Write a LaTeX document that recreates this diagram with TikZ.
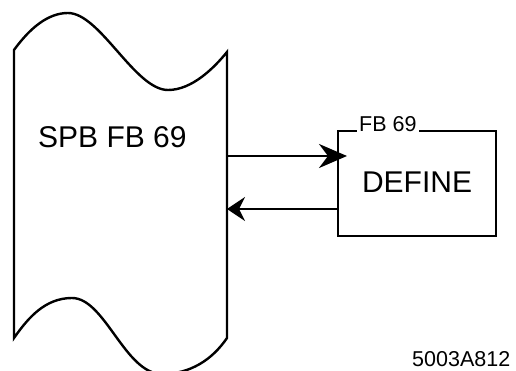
\documentclass[tikz,border=0pt]{standalone}
\usepackage{fontspec}
\setmainfont{Liberation Sans}
\usetikzlibrary{arrows.meta}
\begin{document}
\begin{tikzpicture}[x=1pt,y=-1pt,
  outline/.style={line width=2.4pt},
  flow/.style={line width=2.6pt},
  bigfont/.style={font=\fontsize{30}{36}\selectfont},
  smallfont/.style={font=\fontsize{21.5}{26}\selectfont},
  plain/.style={inner sep=0pt, anchor=base west}]
\useasboundingbox (0,0) rectangle (516,371);
% left program shape
\draw[outline]
  (14,338) -- (14,50)
  .. controls (30,28) and (48,13) .. (68,13)
  .. controls (100,13) and (135,90) .. (168,90)
  .. controls (192,90) and (214,68) .. (227,52)
  -- (227,338)
  .. controls (212,360) and (190,374) .. (162,374)
  .. controls (125,374) and (105,298) .. (72,298)
  .. controls (45,298) and (28,318) .. (14,338) -- cycle;
\node[plain, bigfont] (spb) at (38,148) {SPB FB 69};
% FB box
\node[draw, line width=2pt, minimum width=158pt, minimum height=105pt,
      inner sep=0pt, anchor=north west] (box) at (337,130) {};
\node[inner sep=0pt, anchor=base, bigfont] (def) at (417,193) {DEFINE};
\node[plain, smallfont, fill=white, inner xsep=2pt, inner ysep=1pt] (fb) at (357,132) {FB 69};
\node[plain, smallfont] (code) at (412,366) {5003A812};
% connectors
\coordinate (outA) at (227,156);
\coordinate (tipA) at (347,156);
\coordinate (inB) at (227,209);
\draw[flow, -{Stealth[length=28pt,width=24pt,inset=9pt]}] (outA) -- (tipA);
\draw[flow, -{Stealth[length=18pt,width=24pt,inset=6pt]}] (box.west |- inB) -- (inB);
\end{tikzpicture}
\end{document}
